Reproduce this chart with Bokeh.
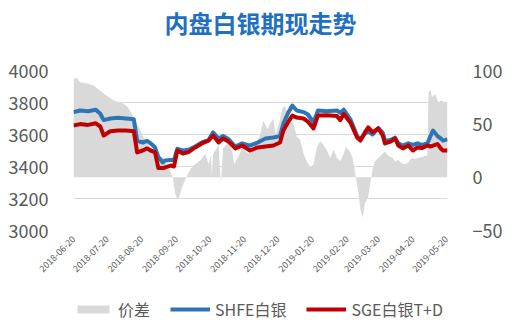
from math import pi
import pandas as pd
from bokeh.plotting import figure
from bokeh.layouts import column
from bokeh.models import (Range1d, LinearAxis, FixedTicker, DatetimeTickFormatter,
                          Legend, LegendItem, ColumnDataSource, Title)
from bokeh.embed import file_html
from bokeh.resources import INLINE

title_text = "内盘白银期现走势"

price_dates = [
    "2018-06-20", "2018-06-26", "2018-07-03", "2018-07-10", "2018-07-14", "2018-07-17",
    "2018-07-23", "2018-07-30", "2018-08-06", "2018-08-13", "2018-08-16", "2018-08-21",
    "2018-08-25", "2018-08-28", "2018-09-01", "2018-09-04", "2018-09-08", "2018-09-10",
    "2018-09-15", "2018-09-18", "2018-09-21", "2018-09-26", "2018-10-01", "2018-10-07",
    "2018-10-13", "2018-10-19", "2018-10-23", "2018-10-28", "2018-11-01", "2018-11-06",
    "2018-11-12", "2018-11-18", "2018-11-25", "2018-12-02", "2018-12-09", "2018-12-16",
    "2018-12-22", "2018-12-25", "2018-12-29", "2019-01-02", "2019-01-06", "2019-01-12",
    "2019-01-16", "2019-01-21", "2019-01-25", "2019-02-02", "2019-02-11", "2019-02-14",
    "2019-02-17", "2019-02-23", "2019-03-01", "2019-03-04", "2019-03-08", "2019-03-11",
    "2019-03-15", "2019-03-20", "2019-03-24", "2019-03-26", "2019-03-31", "2019-04-04",
    "2019-04-07", "2019-04-11", "2019-04-16", "2019-04-20", "2019-04-24", "2019-04-28",
    "2019-05-03", "2019-05-06", "2019-05-08", "2019-05-12", "2019-05-15", "2019-05-17",
    "2019-05-21",
]

shfe = [
    3740, 3750, 3745, 3755, 3730, 3690,
    3700, 3705, 3700, 3695, 3560, 3550,
    3560, 3545, 3520, 3460, 3425, 3437,
    3440, 3440, 3510, 3500, 3505, 3525,
    3550, 3565, 3613, 3575, 3590, 3570,
    3525, 3545, 3530, 3550, 3575, 3581,
    3590, 3669, 3731, 3781, 3750, 3740,
    3725, 3675, 3750, 3745, 3750, 3735,
    3755, 3695, 3590, 3570, 3605, 3620,
    3600, 3640, 3610, 3560, 3565, 3580,
    3545, 3530, 3545, 3535, 3545, 3535,
    3545, 3594, 3625, 3590, 3575, 3562,
    3570,
]

sge = [
    3656, 3665, 3660, 3670, 3650, 3594,
    3620, 3625, 3625, 3620, 3488, 3500,
    3513, 3500, 3490, 3390, 3390, 3394,
    3406, 3400, 3500, 3481, 3490, 3519,
    3544, 3562, 3594, 3550, 3575, 3555,
    3513, 3531, 3500, 3519, 3525, 3531,
    3550, 3625, 3675, 3718, 3706, 3700,
    3680, 3638, 3719, 3720, 3715, 3690,
    3728, 3675, 3581, 3562, 3613, 3644,
    3613, 3638, 3594, 3544, 3555, 3575,
    3531, 3513, 3531, 3500, 3519, 3515,
    3531, 3525, 3531, 3540, 3513, 3500,
    3500,
]

spread_dates = [
    "2018-06-20", "2018-06-23", "2018-06-26", "2018-07-02", "2018-07-08", "2018-07-14",
    "2018-07-20", "2018-07-26", "2018-07-30", "2018-08-04", "2018-08-08", "2018-08-13",
    "2018-08-17", "2018-08-22", "2018-08-26", "2018-08-31", "2018-09-04", "2018-09-09",
    "2018-09-11", "2018-09-14", "2018-09-17", "2018-09-19", "2018-09-21", "2018-09-23",
    "2018-09-25", "2018-09-27", "2018-09-30", "2018-10-03", "2018-10-07", "2018-10-12",
    "2018-10-16", "2018-10-19", "2018-10-21", "2018-10-22", "2018-10-23", "2018-10-25",
    "2018-10-28", "2018-10-29", "2018-10-30", "2018-11-01", "2018-11-05", "2018-11-08",
    "2018-11-09", "2018-11-11", "2018-11-14", "2018-11-18", "2018-11-24", "2018-11-30",
    "2018-12-04", "2018-12-07", "2018-12-11", "2018-12-13", "2018-12-16", "2018-12-18",
    "2018-12-21", "2018-12-24", "2018-12-26", "2018-12-29", "2018-12-31", "2019-01-03",
    "2019-01-06", "2019-01-09", "2019-01-12", "2019-01-15", "2019-01-18", "2019-01-21",
    "2019-01-24", "2019-01-27", "2019-01-30", "2019-02-02", "2019-02-05", "2019-02-08",
    "2019-02-11", "2019-02-14", "2019-02-17", "2019-02-19", "2019-02-22", "2019-02-25",
    "2019-02-27", "2019-03-02", "2019-03-04", "2019-03-06", "2019-03-08", "2019-03-11",
    "2019-03-13", "2019-03-15", "2019-03-17", "2019-03-20", "2019-03-24", "2019-03-26",
    "2019-03-29", "2019-04-02", "2019-04-04", "2019-04-07", "2019-04-10", "2019-04-13",
    "2019-04-16", "2019-04-19", "2019-04-22", "2019-04-25", "2019-04-28", "2019-05-01",
    "2019-05-03", "2019-05-04", "2019-05-06", "2019-05-07", "2019-05-10", "2019-05-13",
    "2019-05-15", "2019-05-17", "2019-05-21",
]

spread = [
    92, 93, 89, 88, 86, 81,
    76, 72, 70, 69, 65, 56,
    48, 37, 30, 25, 20, 18,
    12, 8, -1, -15, -21, -18,
    -10, -5, 2, 8, 12, 16,
    22, 12, 20, 1, 22, 25,
    31, 10, -6, 27, 32, 30,
    25, 12, 18, 27, 22, 31,
    39, 53, 45, 50, 55, 40,
    50, 64, 67, 60, 56, 50,
    38, 35, 22, 15, 9, 12,
    28, 34, 30, 25, 18, 26,
    18, 15, 22, 28, 25, 18,
    6, -13, -30, -38, -25, -18,
    -5, 8, 15, 18, 22, 24,
    20, 18, 15, 16, 13, 12,
    14, 18, 17, 18, 19, 20,
    20, 79, 82, 75, 78, 69,
    72, 71, 69,
]

tick_labels = [
    "2018-06-20", "2018-07-20", "2018-08-20", "2018-09-20", "2018-10-20", "2018-11-20",
    "2018-12-20", "2019-01-20", "2019-02-20", "2019-03-20", "2019-04-20", "2019-05-20",
]
left_ticks = [3000, 3200, 3400, 3600, 3800, 4000]
right_ticks = [-50, 0, 50, 100]
series_names = ["价差", "SHFE白银", "SGE白银T+D"]

FONT = "Noto Sans CJK SC"
TXT = "#595959"
GREY = "#D9D9D9"
BLUE = "#2E75B6"
RED = "#C00000"

price_src = ColumnDataSource(dict(d=pd.to_datetime(price_dates), shfe=shfe, sge=sge))
spread_src = ColumnDataSource(dict(d=pd.to_datetime(spread_dates), v=spread))

x_start = pd.Timestamp("2018-06-20").timestamp() * 1000
x_end = pd.Timestamp("2019-05-21").timestamp() * 1000

# ---------------- main chart ----------------
p = figure(width=515, height=290, x_axis_type="datetime",
           x_range=Range1d(x_start, x_end), y_range=Range1d(3000, 4000),
           output_backend="svg", toolbar_location=None,
           min_border_left=73, min_border_right=68, min_border_top=70, min_border_bottom=60,
           background_fill_color="white", border_fill_color="white",
           outline_line_color=None)
p.extra_y_ranges = {"right": Range1d(-50, 100)}

p.varea(x="d", y1=0, y2="v", source=spread_src, fill_color=GREY, y_range_name="right")
p.line(x="d", y="shfe", source=price_src, line_width=4, line_color=BLUE, line_join="round")
p.line(x="d", y="sge", source=price_src, line_width=4, line_color=RED, line_join="round")

p.left[0].ticker = FixedTicker(ticks=left_ticks)
raxis = LinearAxis(y_range_name="right", ticker=FixedTicker(ticks=right_ticks))
p.add_layout(raxis, "right")

for ax in p.yaxis:
    ax.axis_line_color = None
    ax.major_tick_line_color = None
    ax.minor_tick_line_color = None
    ax.major_tick_out = 0
    ax.major_tick_in = 0
    ax.major_label_text_font = FONT
    ax.major_label_text_font_size = "18px"
    ax.major_label_text_color = TXT
    ax.major_label_standoff = 25

tick_ms = [pd.Timestamp(s).timestamp() * 1000 for s in tick_labels]
xa = p.xaxis[0]
xa.ticker = FixedTicker(ticks=tick_ms)
fmt = "%Y-%m-%d"
xa.formatter = DatetimeTickFormatter(days=fmt, months=fmt, years=fmt, hours=fmt,
                                     hourmin=fmt, minutes=fmt, minsec=fmt, seconds=fmt,
                                     milliseconds=fmt, microseconds=fmt)
xa.major_label_orientation = pi / 4
xa.axis_line_color = None
xa.major_tick_line_color = None
xa.minor_tick_line_color = None
xa.major_tick_out = 0
xa.major_tick_in = 0
xa.major_label_text_font = FONT
xa.major_label_text_font_size = "9px"
xa.major_label_text_color = TXT
xa.major_label_standoff = 7

p.xgrid.visible = False
p.ygrid.grid_line_color = GREY
p.ygrid.grid_line_width = 1

# spacer (closest to the frame), then the visible title above it
p.add_layout(Title(text=" ", text_font_size="1px", standoff=28), "above")
p.add_layout(Title(text=title_text, align="center", text_font=FONT,
                   text_font_size="24px", text_font_style="bold",
                   text_color="#1F70C1", standoff=0), "above")

# ---------------- legend strip ----------------
# its frame is aligned with the chart's frame by the column layout;
# the series are drawn out of view here and only serve the legend swatches
lg = figure(width=515, height=45, x_range=Range1d(0, 1), y_range=Range1d(0, 1),
            output_backend="svg", toolbar_location=None,
            x_axis_location=None, y_axis_location=None,
            min_border=0, outline_line_color=None,
            background_fill_color="white", border_fill_color="white")
lg.grid.visible = False
r_area = lg.varea(x="d", y1=0, y2="v", source=spread_src, fill_color=GREY)
r_blue = lg.line(x="d", y="shfe", source=price_src, line_width=4, line_color=BLUE)
r_red = lg.line(x="d", y="sge", source=price_src, line_width=4, line_color=RED)

legend = Legend(items=[LegendItem(label=series_names[0], renderers=[r_area]),
                       LegendItem(label=series_names[1], renderers=[r_blue]),
                       LegendItem(label=series_names[2], renderers=[r_red])],
                orientation="horizontal", location=(0, 14),
                border_line_color=None, background_fill_alpha=0,
                label_text_font=FONT, label_text_font_size="16px",
                label_text_color=TXT, glyph_width=40, glyph_height=10,
                label_standoff=5, spacing=20, padding=0, margin=0)
lg.add_layout(legend, "center")

layout = column(p, lg, spacing=0)
open("out.html", "w").write(file_html(layout, INLINE))
